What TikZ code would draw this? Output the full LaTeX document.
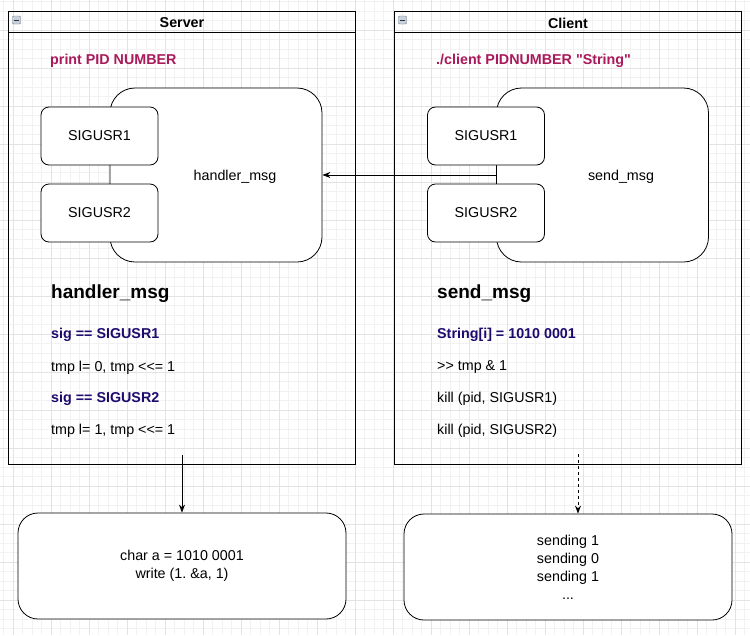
\documentclass[tikz,border=0pt]{standalone}
\usepackage{fontspec}
\setmainfont{Liberation Sans}[Ligatures=TeXOff]
\usetikzlibrary{arrows.meta}
\definecolor{pidred}{RGB}{170,25,90}
\definecolor{signavy}{RGB}{30,10,110}
\definecolor{iconfill}{RGB}{200,210,222}
\definecolor{iconedge}{RGB}{105,118,135}
\frenchspacing
\begin{document}
\begin{tikzpicture}[x=1pt,y=-1pt]
\tikzstyle{every node}+=[inner sep=0pt, font=\fontsize{14.3}{18}\selectfont]
\tikzstyle{gridminor}=[draw=black!5, line width=0.6pt]
\tikzstyle{gridmajor}=[draw=black!11, line width=0.6pt]
\tikzstyle{container}=[draw, line width=0.9pt, minimum width=347, minimum height=453]
\tikzstyle{icon}=[draw=iconedge, fill=iconfill, minimum size=8, rounded corners=1pt]
\tikzstyle{statebox}=[draw, fill=white, line width=0.8pt, rounded corners=25pt, minimum width=212, minimum height=174]
\tikzstyle{sigbox}=[draw, fill=white, line width=0.8pt, rounded corners=8pt, minimum width=117, minimum height=58]
\tikzstyle{resultbox}=[draw, fill=white, line width=0.8pt, rounded corners=20pt, minimum width=328, minimum height=106, align=center]
\tikzstyle{codeline}=[anchor=west]
\tikzstyle{boldline}=[anchor=west, font=\fontsize{14.3}{18}\selectfont\bfseries]
\tikzstyle{heading}=[anchor=west, font=\fontsize{19}{22}\selectfont\bfseries]
\tikzstyle{flow}=[line width=0.8pt, -{Stealth[length=8pt, width=6pt]}]
\useasboundingbox (0,0) rectangle (750,635);
\fill [white] (0,0) rectangle (750,635);
\foreach \i in {0,...,78} \draw [gridminor] (3.5+9.5*\i,0) -- (3.5+9.5*\i,635);
\foreach \i in {0,...,66} \draw [gridminor] (0,1.5+9.5*\i) -- (750,1.5+9.5*\i);
\foreach \i in {0,...,19} \draw [gridmajor] (13+38*\i,0) -- (13+38*\i,635);
\foreach \i in {0,...,16} \draw [gridmajor] (0,30+38*\i) -- (750,30+38*\i);
\node [container] (server) at (182,237.5) {};
\node [container] (client) at (568,237.5) {};
\draw [line width=0.9pt] ([yshift=-22pt]server.north west) -- ([yshift=-22pt]server.north east);
\draw [line width=0.9pt] ([yshift=-22pt]client.north west) -- ([yshift=-22pt]client.north east);
\node [font=\fontsize{14.3}{17}\selectfont\bfseries] (servertitle) at (182,23) {Server};
\node [font=\fontsize{14.3}{17}\selectfont\bfseries] (clienttitle) at (568,23) {Client};
\node [icon] (servericon) at (16.5,20) {};
\node [icon] (clienticon) at (402.5,20) {};
\draw [black!80, line width=0.8pt] ([xshift=2pt]servericon.west) -- ([xshift=-2pt]servericon.east);
\draw [black!80, line width=0.8pt] ([xshift=2pt]clienticon.west) -- ([xshift=-2pt]clienticon.east);
\node [boldline, text=pidred] (serverpid) at (50,61) {print PID NUMBER};
\node [boldline, text=pidred] (clientpid) at (436,61) {./client PIDNUMBER "String"};
\node [statebox] (handler) at (216,175) {};
\node [statebox] (sender) at (602.5,175) {};
\node (handlerlabel) at (235,177) {handler\_msg};
\node (senderlabel) at (621,177) {send\_msg};
\node [sigbox] (serverusr1) at (99.5,136) {SIGUSR1};
\node [sigbox] (serverusr2) at (99.5,213) {SIGUSR2};
\node [sigbox] (clientusr1) at (486,136) {SIGUSR1};
\node [sigbox] (clientusr2) at (486,213) {SIGUSR2};
\draw [flow] (sender.west) -- (handler.east);
\node [heading] (handlertitle) at (51,294) {handler\_msg};
\node [boldline, text=signavy] (sigone) at (51,335) {sig == SIGUSR1};
\node [codeline] (tmpzero) at (51,367.5) {tmp l= 0, tmp <<= 1};
\node [boldline, text=signavy] (sigtwo) at (51,398.5) {sig == SIGUSR2};
\node [codeline] (tmpone) at (51,430.5) {tmp l= 1, tmp <<= 1};
\node [heading] (sendertitle) at (437,294) {send\_msg};
\node [boldline, text=signavy] (strchar) at (437,335) {String[i] = 1010 0001};
\node [codeline] (shiftbit) at (437,367.5) {>> tmp \& 1};
\node [codeline] (killone) at (437,398.5) {kill (pid, SIGUSR1)};
\node [codeline] (killtwo) at (437,430.5) {kill (pid, SIGUSR2)};
\node [resultbox] (written) at (182,566) {char a = 1010 0001\\write (1. \&a, 1)};
\node [resultbox] (sent) at (568,567) {sending 1\\sending 0\\sending 1\\...};
\coordinate (serverout) at (182,455);
\coordinate (clientout) at (578,454);
\draw [flow] (serverout) -- (serverout |- written.north);
\draw [flow, dashed] (clientout) -- (clientout |- sent.north);
\end{tikzpicture}
\end{document}
